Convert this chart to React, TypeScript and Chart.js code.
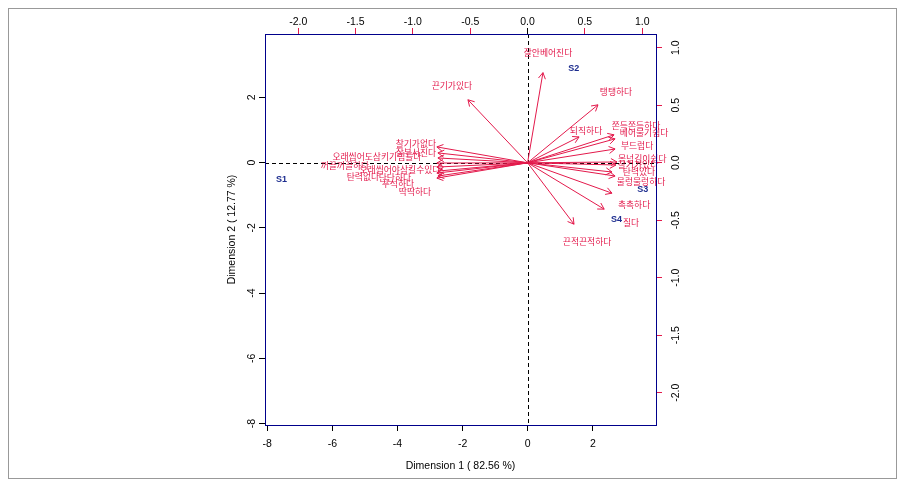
import React, { useEffect, useRef } from "react";
import { Chart, registerables } from "chart.js";

Chart.register(...registerables);

// ---- data ----
const sampleNames = ["S1", "S2", "S3", "S4"];
const sampleDim1 = [-7.56, 1.41, 3.53, 2.73];
const sampleDim2 = [-0.51, 2.87, -0.84, -1.74];

const attrNames = [
  "찰기가없다",
  "잘부서진다",
  "오래씹어도삼키기힘들다",
  "꺼끌꺼끌하다",
  "오래씹어야삼킬수있다",
  "탄력없다",
  "단단하다",
  "푸석하다",
  "딱딱하다",
  "끈기가있다",
  "잘안베어진다",
  "탱탱하다",
  "되직하다",
  "쫀득쫀득하다",
  "베어물기쉽다",
  "부드럽다",
  "목넘김이쉽다",
  "찰기가있다",
  "탄력있다",
  "물렁물렁하다",
  "촉촉하다",
  "질다",
  "끈적끈적하다",
];
const arrowDim1 = [
  -0.791, -0.782, -0.782, -0.791, -0.791, -0.782, -0.791, -0.782, -0.791,
  -0.52, 0.134, 0.614, 0.449, 0.754, 0.763, 0.763, 0.78, 0.771, 0.736, 0.763,
  0.736, 0.668, 0.405,
];
const arrowDim2 = [
  0.138, 0.086, 0.042, -0.002, -0.037, -0.072, -0.089, -0.115, -0.133,
  0.548, 0.784, 0.504, 0.225, 0.243, 0.208, 0.12, 0.007, -0.019, -0.08, -0.115,
  -0.264, -0.403, -0.534,
];
const labelDim1 = [
  -0.974, -0.974, -1.314, -1.593, -1.113, -1.436, -1.157, -1.131, -0.982,
  -0.66, 0.178, 0.771, 0.51, 0.946, 1.016, 0.955, 1.0, 0.963, 0.972, 0.99,
  0.929, 0.902, 0.519,
];
const labelDim2 = [
  0.164, 0.086, 0.051, -0.028, -0.063, -0.124, -0.133, -0.185, -0.255,
  0.67, 0.958, 0.618, 0.277, 0.321, 0.26, 0.147, 0.033, -0.019, -0.08, -0.168,
  -0.36, -0.517, -0.682,
];

const dim1Ticks = [-8, -6, -4, -2, 0, 2];
const dim2Ticks = [-8, -6, -4, -2, 0, 2];
const loadXTicks = [-2, -1.5, -1, -0.5, 0, 0.5, 1];
const loadYTicks = [-2, -1.5, -1, -0.5, 0, 0.5, 1];
const xTitle = "Dimension 1 ( 82.56 %)";
const yTitle = "Dimension 2 ( 12.77 %)";

// ---- styles ----
const RED = "#e3194b";
const NAVY = "#1d2d8f";
const BOX = "#00008b";
const FAMILY = "'Liberation Sans', Arial, Helvetica, sans-serif";
const KFAMILY = "'Noto Sans CJK KR', 'Noto Sans', sans-serif";

const biplotPlugin = {
  id: "biplot",
  beforeDatasetsDraw(chart: any) {
    const { ctx, chartArea, scales } = chart;
    const x0 = Math.round(scales.x.getPixelForValue(0)) + 0.5;
    const y0 = Math.round(scales.y.getPixelForValue(0)) + 0.5;
    ctx.save();
    ctx.strokeStyle = "#000";
    ctx.lineWidth = 1;
    ctx.setLineDash([4, 3]);
    ctx.beginPath();
    ctx.moveTo(chartArea.left, y0);
    ctx.lineTo(chartArea.right, y0);
    ctx.moveTo(x0, chartArea.top);
    ctx.lineTo(x0, chartArea.bottom);
    ctx.stroke();
    ctx.restore();
  },
  afterDatasetsDraw(chart: any) {
    const { ctx, scales } = chart;
    ctx.save();
    // arrow heads
    ctx.strokeStyle = RED;
    ctx.lineWidth = 1;
    const headLen = 7;
    const headAng = Math.PI / 6;
    for (let i = 0; i < attrNames.length; i++) {
      const meta = chart.getDatasetMeta(i + 1);
      const p0 = meta.data[0];
      const p1 = meta.data[1];
      const a = Math.atan2(p1.y - p0.y, p1.x - p0.x);
      ctx.beginPath();
      ctx.moveTo(p1.x - headLen * Math.cos(a - headAng), p1.y - headLen * Math.sin(a - headAng));
      ctx.lineTo(p1.x, p1.y);
      ctx.lineTo(p1.x - headLen * Math.cos(a + headAng), p1.y - headLen * Math.sin(a + headAng));
      ctx.stroke();
    }
    // attribute labels
    ctx.fillStyle = RED;
    ctx.font = `8.8px ${KFAMILY}`;
    ctx.textAlign = "center";
    ctx.textBaseline = "middle";
    for (let i = 0; i < attrNames.length; i++) {
      const px = scales.x2.getPixelForValue(labelDim1[i]);
      const py = scales.y2.getPixelForValue(labelDim2[i]);
      ctx.fillText(attrNames[i], px, py);
    }
    // sample labels
    const m0 = chart.getDatasetMeta(0);
    ctx.fillStyle = NAVY;
    ctx.font = `bold 9px ${FAMILY}`;
    m0.data.forEach((pt: any, j: number) => {
      ctx.fillText(sampleNames[j], pt.x, pt.y);
    });
    ctx.restore();
  },
};

const tickFont = { family: FAMILY, size: 10.5, lineHeight: 1 };

export default function App() {
  const ref = useRef<HTMLCanvasElement | null>(null);

  useEffect(() => {
    if (!ref.current) return;
    const datasets: any[] = [
      {
        type: "scatter",
        label: "samples",
        data: sampleDim1.map((v, i) => ({ x: v, y: sampleDim2[i] })),
        xAxisID: "x",
        yAxisID: "y",
        pointRadius: 0,
        showLine: false,
      },
    ];
    attrNames.forEach((name, i) => {
      datasets.push({
        type: "line",
        label: name,
        data: [
          { x: 0, y: 0 },
          { x: arrowDim1[i], y: arrowDim2[i] },
        ],
        xAxisID: "x2",
        yAxisID: "y2",
        borderColor: RED,
        borderWidth: 1,
        pointRadius: 0,
        showLine: true,
        fill: false,
        tension: 0,
      });
    });

    const chart = new Chart(ref.current, {
      type: "scatter",
      data: { datasets },
      options: {
        animation: false,
        responsive: false,
        maintainAspectRatio: false,
        devicePixelRatio: 1,
        events: [],
        layout: { padding: { left: 217, right: 0, top: 0, bottom: 0 } },
        plugins: { legend: { display: false }, tooltip: { enabled: false } },
        scales: {
          x: {
            type: "linear",
            position: "bottom",
            min: -8.07,
            max: 3.94,
            afterBuildTicks: (s: any) => {
              s.ticks = dim1Ticks.map((v) => ({ value: v }));
            },
            afterFit: (s: any) => {
              s.height = 53;
            },
            ticks: {
              font: tickFont,
              color: "#000",
              padding: 8,
              autoSkip: false,
              maxRotation: 0,
              minRotation: 0,
              callback: (v: any) => String(v),
            },
            grid: { drawOnChartArea: false, drawTicks: true, tickLength: 6, tickColor: "#000", lineWidth: 1 },
            border: { display: true, color: BOX, width: 1, z: 1 },
            title: {
              display: true,
              text: xTitle,
              color: "#000",
              font: { family: FAMILY, size: 10.5 },
              padding: { top: 0, bottom: 6 },
            },
          },
          y: {
            type: "linear",
            position: "left",
            min: -8.04,
            max: 3.94,
            afterBuildTicks: (s: any) => {
              s.ticks = dim2Ticks.map((v) => ({ value: v }));
            },
            afterFit: (s: any) => {
              s.width = 39;
            },
            ticks: {
              font: tickFont,
              color: "#000",
              padding: 2,
              autoSkip: false,
              minRotation: 90,
              maxRotation: 90,
              crossAlign: "center",
              callback: (v: any) => String(v),
            },
            grid: { drawOnChartArea: false, drawTicks: true, tickLength: 6, tickColor: "#000", lineWidth: 1 },
            border: { display: true, color: BOX, width: 1, z: 1 },
            title: {
              display: true,
              text: yTitle,
              color: "#000",
              font: { family: FAMILY, size: 10.5 },
              padding: { top: 0, bottom: 0 },
            },
          },
          x2: {
            type: "linear",
            axis: "x",
            position: "top",
            min: -2.29,
            max: 1.12,
            afterBuildTicks: (s: any) => {
              s.ticks = loadXTicks.map((v) => ({ value: v }));
            },
            afterFit: (s: any) => {
              s.height = 25;
            },
            ticks: {
              font: tickFont,
              color: "#000",
              padding: 1,
              autoSkip: false,
              maxRotation: 0,
              minRotation: 0,
              callback: (v: any) => Number(v).toFixed(1),
            },
            grid: {
              drawOnChartArea: false,
              drawTicks: true,
              tickLength: 6,
              tickColor: (c: any) => (c.tick && c.tick.value === 0 ? "#000" : RED),
              lineWidth: 1,
            },
            border: { display: true, color: BOX, width: 1, z: 1 },
          },
          y2: {
            type: "linear",
            axis: "y",
            position: "right",
            min: -2.28,
            max: 1.12,
            afterBuildTicks: (s: any) => {
              s.ticks = loadYTicks.map((v) => ({ value: v }));
            },
            afterFit: (s: any) => {
              s.width = 240;
            },
            ticks: {
              font: tickFont,
              color: "#000",
              padding: 5,
              autoSkip: false,
              minRotation: 90,
              maxRotation: 90,
              crossAlign: "center",
              callback: (v: any) => Number(v).toFixed(1),
            },
            grid: { drawOnChartArea: false, drawTicks: true, tickLength: 6, tickColor: RED, lineWidth: 1 },
            border: { display: true, color: BOX, width: 1, z: 1 },
          },
        },
      } as any,
      plugins: [biplotPlugin],
    });
    return () => chart.destroy();
  }, []);

  return (
    <div style={{ width: 887, height: 469, border: "1px solid #999", background: "#fff" }}>
      <canvas ref={ref} width={887} height={469} style={{ display: "block" }} />
    </div>
  );
}
